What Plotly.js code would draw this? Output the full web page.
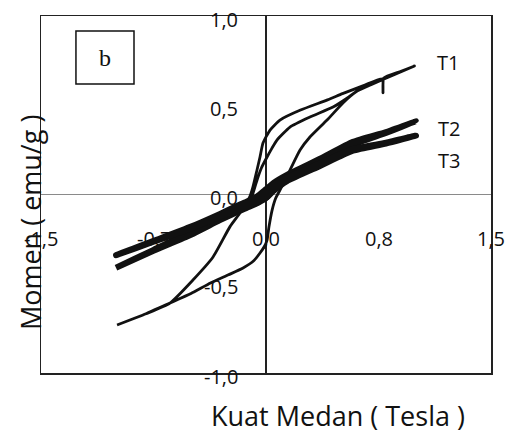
<!DOCTYPE html>
<html>
<head>
<meta charset="utf-8">
<script src="https://cdn.plot.ly/plotly-3.0.1.min.js"></script>
<style>
  html, body { margin: 0; padding: 0; background: #fff; }
  #chart { width: 508px; height: 434px; }
</style>
</head>
<body>
<div id="chart"></div>
<script>
// Hysteresis loops: magnetic moment (emu/g) against applied field (Tesla)

// T1: initial curve, then field swept +1 -> -1 -> +1
const t1Field = [
  -0.10, -0.06, -0.03, 0.007, 0.04, 0.073, 0.16, 0.293, 0.447, 0.55, 0.65, 0.80, 0.99,
  0.90, 0.785, 0.78, 0.775, 0.65, 0.51, 0.41, 0.23, 0.093, 0.027, -0.02, -0.04, -0.06,
  -0.087, -0.107, -0.17, -0.24, -0.353, -0.487, -0.64, -0.80, -0.993,
  -0.80, -0.64, -0.50, -0.37, -0.25, -0.153, -0.08, -0.04, -0.01, 0.007, 0.02, 0.04,
  0.065, 0.093, 0.16, 0.227, 0.293, 0.407, 0.513, 0.60, 0.70, 0.85, 0.99
];
const t1Moment = [
  -0.03, 0.08, 0.15, 0.21, 0.26, 0.305, 0.378, 0.434, 0.49, 0.545, 0.605, 0.655, 0.72,
  0.69, 0.652, 0.57, 0.648, 0.61, 0.565, 0.53, 0.473, 0.417, 0.361, 0.288, 0.21, 0.137,
  0.042, -0.01, -0.10, -0.18, -0.35, -0.479, -0.608, -0.668, -0.731,
  -0.668, -0.608, -0.555, -0.496, -0.45, -0.412, -0.37, -0.328, -0.29, -0.255, -0.18, -0.09,
  -0.02, 0.025, 0.137, 0.249, 0.322, 0.417, 0.513, 0.575, 0.615, 0.67, 0.72
];

// T2: field swept +1 -> -1 -> +1
const t2Field = [
  1.0, 0.8, 0.58, 0.36, 0.14, 0.05, 0.0, -0.05, -0.1, -0.17, -0.31, -0.5, -0.75, -1.0,
  -0.75, -0.5, -0.31, -0.17, -0.1, -0.05, 0.0, 0.05, 0.14, 0.36, 0.58, 0.8, 1.0
];
const t2Moment = [
  0.41, 0.35, 0.295, 0.20, 0.11, 0.065, 0.03, -0.005, -0.035, -0.06, -0.125, -0.21, -0.31, -0.41,
  -0.315, -0.225, -0.145, -0.09, -0.065, -0.045, -0.02, 0.03, 0.085, 0.18, 0.28, 0.345, 0.41
];

// T3: field swept +1 -> -1 -> +1
const t3Field = [
  1.0, 0.8, 0.58, 0.36, 0.14, 0.05, 0.0, -0.05, -0.1, -0.17, -0.31, -0.5, -0.75, -1.0,
  -0.75, -0.5, -0.31, -0.17, -0.1, -0.05, 0.0, 0.05, 0.14, 0.36, 0.58, 0.8, 1.0
];
const t3Moment = [
  0.33, 0.29, 0.255, 0.175, 0.095, 0.055, 0.02, -0.01, -0.03, -0.055, -0.11, -0.18, -0.26, -0.34,
  -0.265, -0.19, -0.125, -0.08, -0.06, -0.04, -0.02, 0.02, 0.075, 0.16, 0.245, 0.285, 0.33
];

const seriesNames = ['T1', 'T2', 'T3'];
const seriesLabelPos = [[1.21, 0.737], [1.22, 0.37], [1.22, 0.19]];

const xTickVals = [-1.5, -0.75, 0, 0.75, 1.5];
const xTickText = ['-1,5', '-0,7', '0,0', '0,8', '1,5'];
const yTickVals = [-1, -0.5, 0, 0.5, 1];
const yTickText = ['-1,0', '-0,5', '0,0', '0,5', '1,0'];

const xTitle = 'Kuat Medan ( Tesla )';
const yTitle = 'Momen ( emu/g )';
const panelTag = 'b';

const FONT = '"Open Sans", "Noto Sans", sans-serif';
const INK = '#111111';

const traces = [
  { x: t1Field, y: t1Moment, name: seriesNames[0], mode: 'lines',
    line: { color: INK, width: 2.8, shape: 'spline', smoothing: 0.5 } },
  { x: t2Field, y: t2Moment, name: seriesNames[1], mode: 'lines',
    line: { color: INK, width: 6, shape: 'spline', smoothing: 0.5 } },
  { x: t3Field, y: t3Moment, name: seriesNames[2], mode: 'lines',
    line: { color: INK, width: 6, shape: 'spline', smoothing: 0.5 } }
];

const tickFont = { family: FONT, size: 20, color: INK, weight: 500 };
const titleFont = { family: FONT, size: 27, color: INK, weight: 500 };

const annotations = [];
// x tick labels sit below the horizontal zero line
xTickVals.forEach((v, i) => annotations.push({
  x: v, y: 0, xref: 'x', yref: 'y', text: xTickText[i], showarrow: false,
  xanchor: 'center', yanchor: 'middle', yshift: -44, font: tickFont
}));
// y tick labels sit to the left of the vertical zero line
yTickVals.forEach((v, i) => annotations.push({
  x: 0, y: v, xref: 'x', yref: 'y', text: yTickText[i], showarrow: false,
  xanchor: 'right', yanchor: 'middle', xshift: -26, yshift: -3, font: tickFont
}));
// series labels at the right ends of the loops
seriesNames.forEach((n, i) => annotations.push({
  x: seriesLabelPos[i][0], y: seriesLabelPos[i][1], xref: 'x', yref: 'y', text: n,
  showarrow: false, xanchor: 'center', yanchor: 'middle', font: tickFont
}));
// axis titles
annotations.push({
  x: 0.659, y: -0.118, xref: 'paper', yref: 'paper', text: xTitle, showarrow: false,
  xanchor: 'center', yanchor: 'middle', font: titleFont
});
annotations.push({
  x: -0.022, y: 0.423, xref: 'paper', yref: 'paper', text: yTitle, showarrow: false,
  textangle: -90, xanchor: 'center', yanchor: 'middle', font: titleFont
});
// panel tag
annotations.push({
  x: -1.073, y: 0.767, xref: 'x', yref: 'y', text: panelTag, showarrow: false,
  xanchor: 'center', yanchor: 'middle',
  font: { family: '"Liberation Serif", "DejaVu Serif", serif', size: 24, color: INK }
});

const layout = {
  width: 508, height: 434,
  margin: { l: 41, r: 17, t: 16, b: 61, pad: 0 },
  paper_bgcolor: '#ffffff', plot_bgcolor: '#ffffff',
  showlegend: false,
  xaxis: {
    range: [-1.5, 1.5], showgrid: false, showticklabels: false, ticks: '',
    zeroline: true, zerolinecolor: '#222', zerolinewidth: 1.5,
    showline: true, mirror: true, linecolor: '#222', linewidth: 1.5, fixedrange: true
  },
  yaxis: {
    range: [-1, 1], showgrid: false, showticklabels: false, ticks: '',
    zeroline: true, zerolinecolor: '#8a8a8a', zerolinewidth: 1,
    showline: true, mirror: true, linecolor: '#222', linewidth: 1.5, fixedrange: true
  },
  shapes: [{
    type: 'rect', xref: 'x', yref: 'y', x0: -1.267, x1: -0.88, y0: 0.619, y1: 0.916,
    line: { color: INK, width: 1.5 }, fillcolor: 'rgba(0,0,0,0)'
  }],
  annotations: annotations
};

Plotly.newPlot('chart', traces, layout, { displayModeBar: false, staticPlot: true });
</script>
</body>
</html>
